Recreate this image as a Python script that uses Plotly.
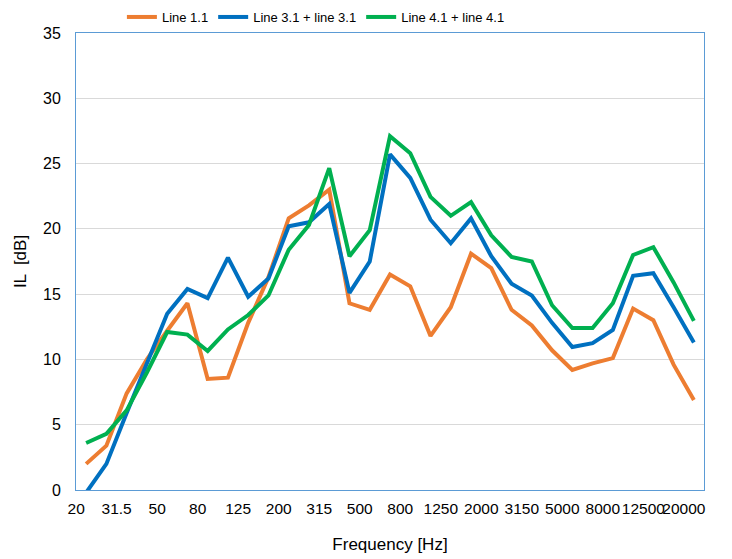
import plotly.graph_objects as go

# third-octave band centre frequencies
freqs = ["20", "25", "31.5", "40", "50", "63", "80", "100", "125", "160",
         "200", "250", "315", "400", "500", "630", "800", "1000", "1250",
         "1600", "2000", "2500", "3150", "4000", "5000", "6300", "8000",
         "10000", "12500", "16000", "20000"]
tick_labels = freqs[::2]

line_1_1 = [2.0, 3.4, 7.4, 10.0, 12.2, 14.3, 8.5, 8.6, 12.8, 16.3,
            20.8, 21.8, 23.0, 14.3, 13.8, 16.5, 15.6, 11.8, 14.0, 18.1,
            17.0, 13.8, 12.6, 10.7, 9.2, 9.7, 10.1, 13.9, 13.0, 9.6, 6.9]
line_3_1 = [-0.2, 2.0, 5.9, 9.7, 13.5, 15.4, 14.7, 17.8, 14.8, 16.2,
            20.2, 20.5, 21.9, 15.1, 17.5, 25.7, 23.9, 20.7, 18.9, 20.8,
            17.9, 15.8, 14.9, 12.8, 10.95, 11.25, 12.25, 16.4, 16.6, 14.0, 11.3]
line_4_1 = [3.6, 4.3, 6.1, 9.0, 12.1, 11.9, 10.65, 12.3, 13.4, 14.9,
            18.4, 20.3, 24.65, 17.9, 19.9, 27.1, 25.8, 22.45, 21.0, 22.05,
            19.5, 17.85, 17.5, 14.15, 12.4, 12.4, 14.3, 18.0, 18.6, 15.9, 12.95]

series = [
    ("Line 1.1", line_1_1, "#ED7D31"),
    ("Line 3.1 + line 3.1", line_3_1, "#0070C0"),
    ("Line 4.1 + line 4.1", line_4_1, "#00B050"),
]

fig = go.Figure()
for name, vals, color in series:
    fig.add_trace(go.Scatter(x=freqs, y=vals, name=name, mode="lines",
                             line=dict(color=color, width=4)))

font = "Liberation Sans, Arial, sans-serif"
# page body has an 8px margin, so the margins are trimmed to compensate
fig.update_layout(
    width=732, height=559,
    paper_bgcolor="white", plot_bgcolor="white",
    font=dict(family=font, color="#000000", size=16),
    margin=dict(l=68, r=36, t=25, b=77, autoexpand=False),
    showlegend=True,
    legend=dict(orientation="h", x=0.382, xanchor="center",
                y=1.035, yanchor="middle", font=dict(size=13),
                itemwidth=30, bgcolor="rgba(0,0,0,0)"),
    xaxis=dict(type="category", range=[-0.5, 30.5],
               tickmode="array", tickvals=tick_labels, ticktext=tick_labels,
               tickangle=0, tickfont=dict(size=15.5),
               ticklabelshift=-10, ticklabelstandoff=4,
               showgrid=False, showline=True, mirror=True,
               linecolor="#5B9BD5", linewidth=1, ticks="",
               title=dict(text="Frequency [Hz]", font=dict(size=17),
                          standoff=22)),
    yaxis=dict(range=[0, 35], dtick=5, showgrid=True, gridcolor="#D9D9D9",
               gridwidth=1, zeroline=False, showline=True, mirror=True,
               linecolor="#5B9BD5", linewidth=1, ticks="",
               ticklabelstandoff=11,
               title=dict(text="IL  [dB]", font=dict(size=17), standoff=12)),
)

fig.write_html("out.html")
